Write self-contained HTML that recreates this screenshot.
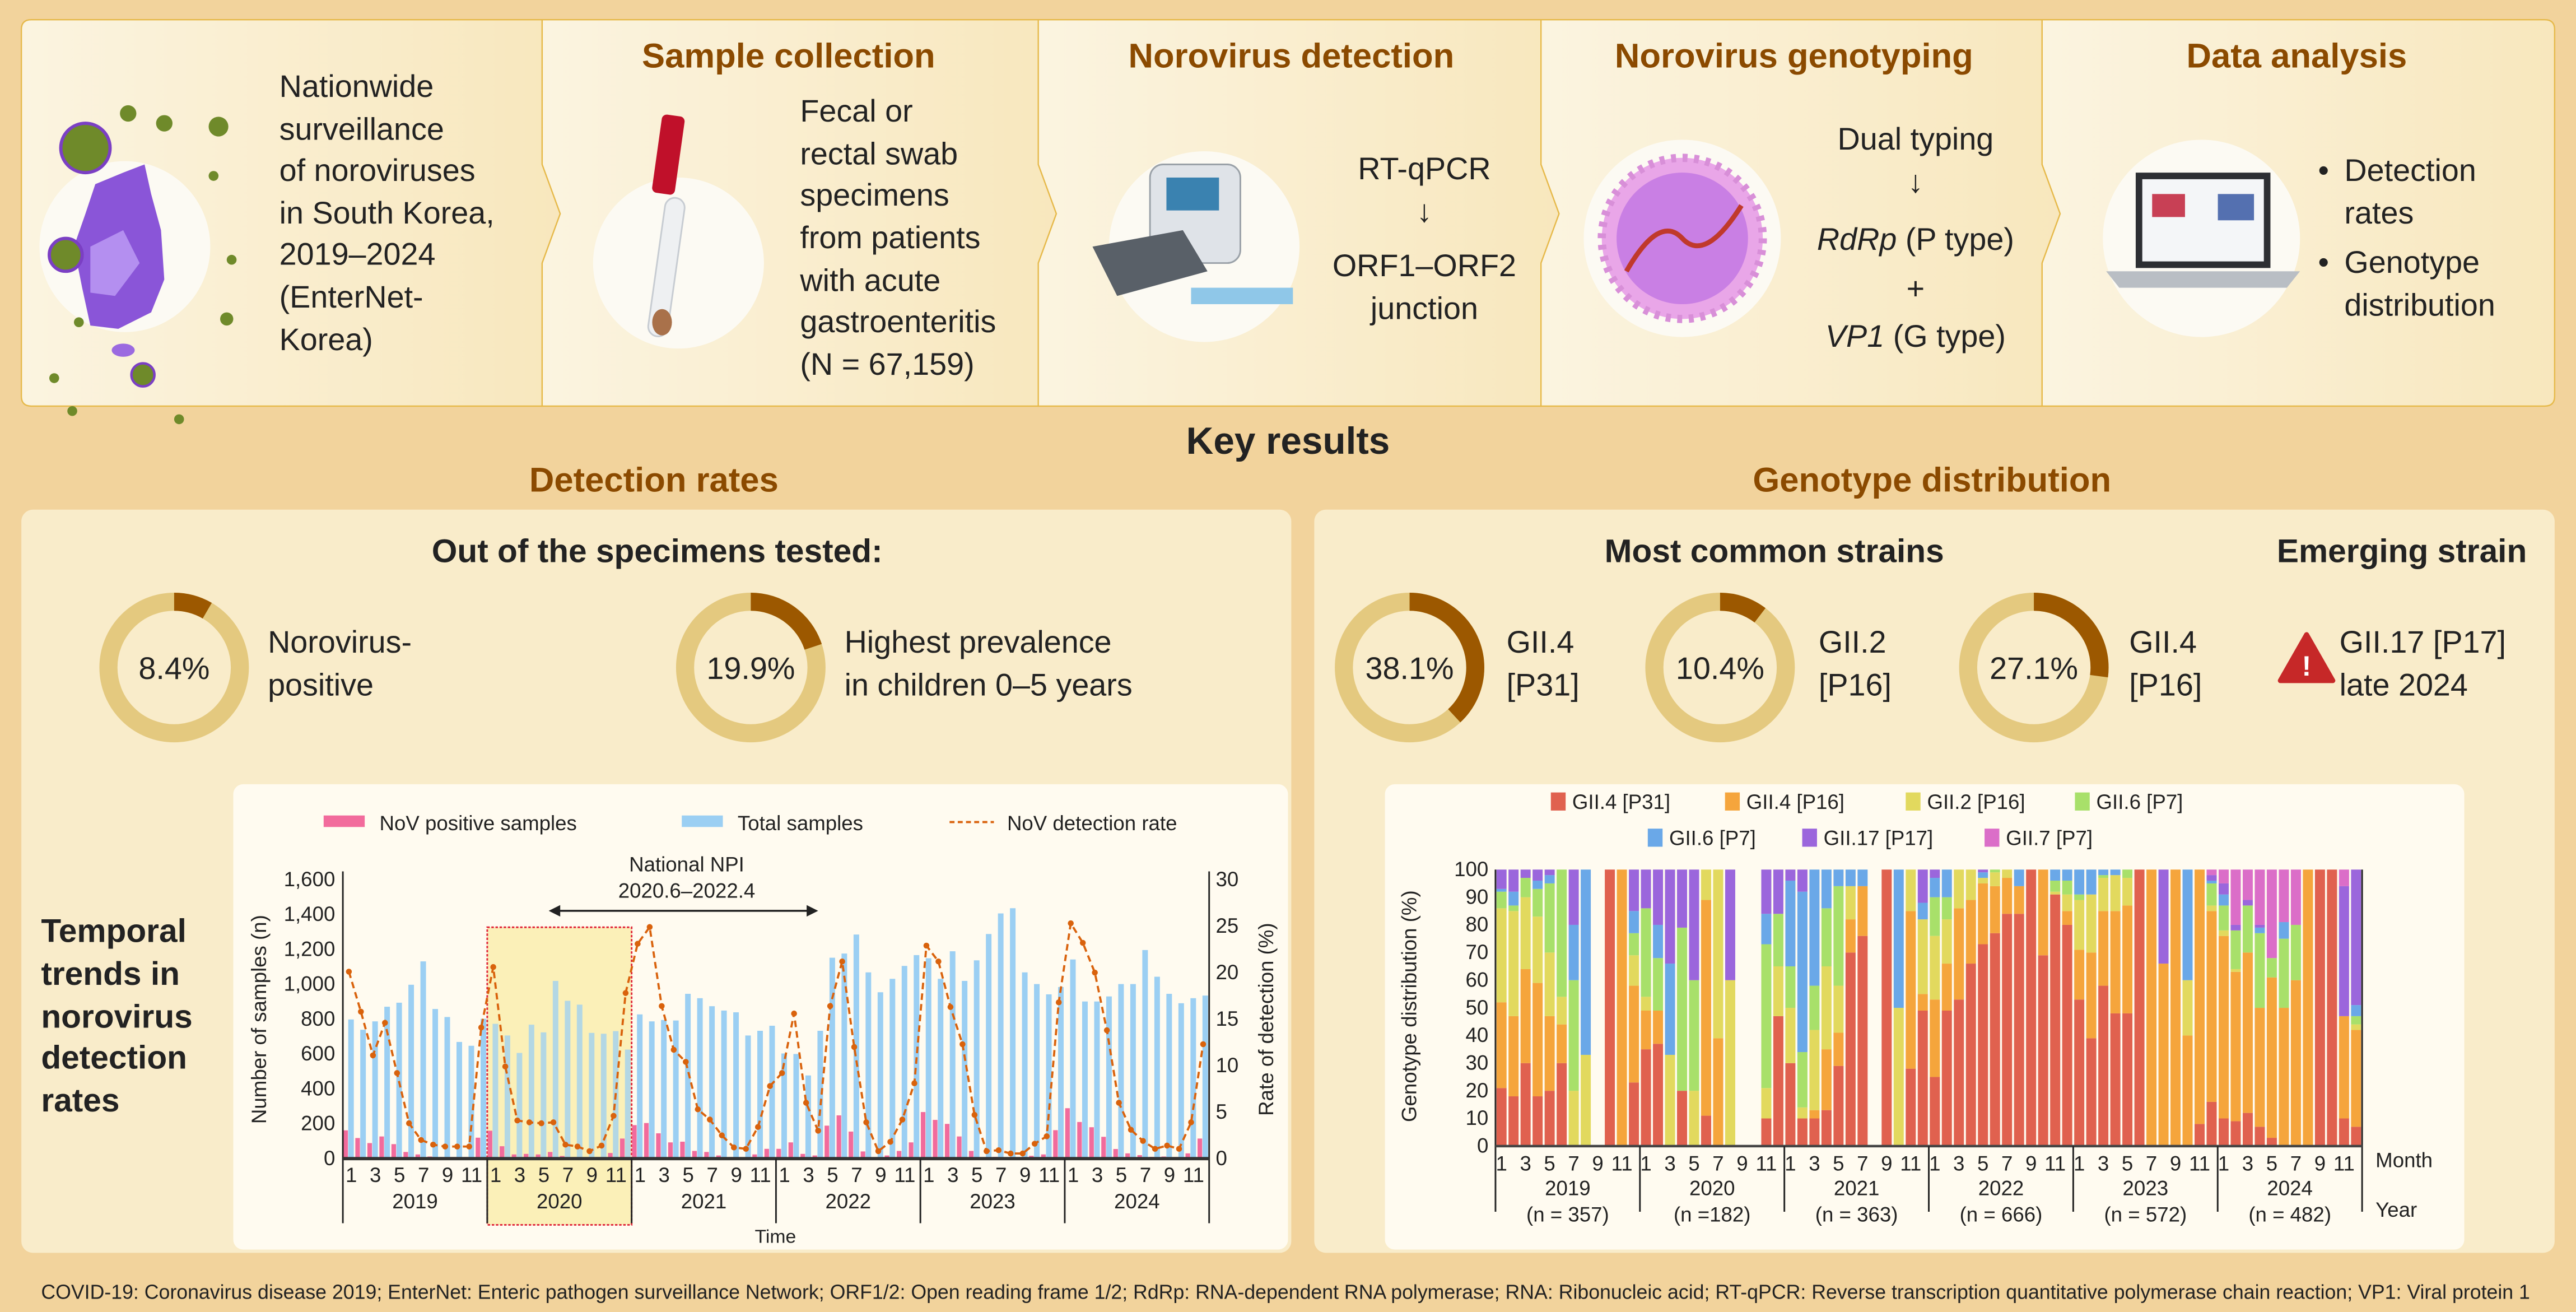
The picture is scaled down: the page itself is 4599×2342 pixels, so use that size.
<!DOCTYPE html>
<html><head><meta charset="utf-8"><style>
html,body{margin:0;padding:0;background:#f2d39c;}
svg{display:block;font-family:"Liberation Sans",Arial,sans-serif;}
</style></head><body>
<svg id="root" width="4599" height="2342" viewBox="0 0 1568 798" preserveAspectRatio="none" xmlns="http://www.w3.org/2000/svg">
<defs>
<linearGradient id="pg" x1="0" x2="1"><stop offset="0" stop-color="#fbf4e0"/><stop offset="1" stop-color="#f8e7bd"/></linearGradient>
</defs>
<rect x="0" y="0" width="1568" height="798" fill="#f2d39c"/>

<g>
<path d="M19,12 H330 V100 L341,130 L330,160 V247 H19 Q13,247 13,241 V18 Q13,12 19,12Z" fill="url(#pg)" stroke="#e6b94a" stroke-width="0.8"/>
<path d="M330,12 H632 V100 L643,130 L632,160 V247 H330 V160 L341,130 L330,100Z" fill="url(#pg)" stroke="#e6b94a" stroke-width="0.8"/>
<path d="M632,12 H938 V100 L949,130 L938,160 V247 H632 V160 L643,130 L632,100Z" fill="url(#pg)" stroke="#e6b94a" stroke-width="0.8"/>
<path d="M938,12 H1243 V100 L1254,130 L1243,160 V247 H938 V160 L949,130 L938,100Z" fill="url(#pg)" stroke="#e6b94a" stroke-width="0.8"/>
<path d="M1243,12 H1549 Q1555,12 1555,18 V241 Q1555,247 1549,247 H1243 V160 L1254,130 L1243,100Z" fill="url(#pg)" stroke="#e6b94a" stroke-width="0.8"/>
</g>

<g>
<circle cx="76" cy="150" r="52" fill="#fcfaf3"/>
<path d="M58,112 L75,105 L88,100 L92,118 L98,140 L100,170 L92,190 L72,200 L55,198 L50,175 L45,150 L52,130Z" fill="#8a55d8"/>
<path d="M55,150 L75,140 L85,160 L70,180 L55,178Z" fill="#b48ff0"/>
<ellipse cx="75" cy="213" rx="7" ry="4" fill="#9b6ae0"/>
<circle cx="52" cy="90" r="15" fill="#6f8a2a" stroke="#7b3fc4" stroke-width="2"/>
<circle cx="40" cy="155" r="10" fill="#6f8a2a" stroke="#7b3fc4" stroke-width="2"/>
<circle cx="87" cy="228" r="7" fill="#6f8a2a" stroke="#7b3fc4" stroke-width="1.5"/>
<circle cx="100" cy="75" r="5" fill="#6f8a2a"/><circle cx="133" cy="77" r="6" fill="#6f8a2a"/>
<circle cx="78" cy="69" r="5" fill="#6f8a2a"/><circle cx="130" cy="107" r="3" fill="#6f8a2a"/>
<circle cx="141" cy="158" r="3" fill="#6f8a2a"/><circle cx="138" cy="194" r="4" fill="#6f8a2a"/>
<circle cx="48" cy="196" r="3" fill="#6f8a2a"/><circle cx="33" cy="230" r="3" fill="#6f8a2a"/>
<circle cx="44" cy="250" r="3" fill="#6f8a2a"/><circle cx="109" cy="255" r="3" fill="#6f8a2a"/>
</g>
<text font-size="19" fill="#222">
<tspan x="170" y="59">Nationwide</tspan><tspan x="170" y="85">surveillance</tspan><tspan x="170" y="110">of noroviruses</tspan><tspan x="170" y="136">in South Korea,</tspan><tspan x="170" y="161">2019–2024</tspan><tspan x="170" y="187">(EnterNet-</tspan><tspan x="170" y="213">Korea)</tspan></text>

<text x="480" y="41" font-size="21" font-weight="bold" fill="#8b4a00" text-anchor="middle">Sample collection</text>
<g>
<circle cx="413" cy="160" r="52" fill="#fcfaf3"/>
<rect x="400" y="120" width="12" height="85" rx="6" fill="#eef0f2" stroke="#c7ccd2" transform="rotate(8 406 160)"/>
<rect x="399" y="70" width="14" height="48" rx="3" fill="#c0102a" transform="rotate(8 406 100)"/>
<ellipse cx="403" cy="196" rx="6" ry="8" fill="#a9714a"/>
</g>
<text font-size="19" fill="#222">
<tspan x="487" y="74">Fecal or</tspan><tspan x="487" y="100">rectal swab</tspan><tspan x="487" y="125">specimens</tspan><tspan x="487" y="151">from patients</tspan><tspan x="487" y="177">with acute</tspan><tspan x="487" y="202">gastroenteritis</tspan><tspan x="487" y="228">(N = 67,159)</tspan></text>

<text x="786" y="41" font-size="21" font-weight="bold" fill="#8b4a00" text-anchor="middle">Norovirus detection</text>
<g>
<circle cx="733" cy="150" r="58" fill="#fcfaf3"/>
<rect x="700" y="100" width="55" height="60" rx="8" fill="#dfe3e8" stroke="#9aa1a8"/>
<rect x="710" y="108" width="32" height="20" fill="#3a82b0"/>
<path d="M665,150 L720,140 L735,165 L680,180Z" fill="#596068"/>
<rect x="725" y="175" width="62" height="10" fill="#8fc7e8"/>
</g>
<text font-size="19" fill="#222" text-anchor="middle">
<tspan x="867" y="109">RT-qPCR</tspan><tspan x="867" y="135">↓</tspan><tspan x="867" y="168">ORF1–ORF2</tspan><tspan x="867" y="194">junction</tspan></text>

<text x="1092" y="41" font-size="21" font-weight="bold" fill="#8b4a00" text-anchor="middle">Norovirus genotyping</text>
<g>
<circle cx="1024" cy="145" r="60" fill="#fcfaf3"/>
<circle cx="1024" cy="145" r="49" fill="#e9a6e8" stroke="#d88fd8" stroke-width="5" stroke-dasharray="3 4"/>
<circle cx="1024" cy="145" r="40" fill="#c97fe4"/>
<path d="M990,165 Q1010,130 1024,145 T1060,125" fill="none" stroke="#c0392b" stroke-width="3"/>
</g>
<text font-size="19" fill="#222" text-anchor="middle">
<tspan x="1166" y="91">Dual typing</tspan><tspan x="1166" y="117">↓</tspan><tspan x="1166" y="152"><tspan font-style="italic">RdRp</tspan> (P type)</tspan><tspan x="1166" y="182">+</tspan><tspan x="1166" y="211"><tspan font-style="italic">VP1</tspan> (G type)</tspan></text>

<text x="1398" y="41" font-size="21" font-weight="bold" fill="#8b4a00" text-anchor="middle">Data analysis</text>
<g>
<circle cx="1340" cy="145" r="60" fill="#fcfaf3"/>
<rect x="1300" y="105" width="82" height="58" fill="#2d2f33"/>
<rect x="1304" y="109" width="74" height="50" fill="#f4f6f8"/>
<rect x="1310" y="118" width="20" height="14" fill="#c84055"/><rect x="1350" y="118" width="22" height="16" fill="#5470b0"/>
<path d="M1282,165 H1400 L1392,175 H1290Z" fill="#b9bec4"/>
</g>
<text font-size="19" fill="#222">
<tspan x="1411" y="110">•</tspan><tspan x="1427" y="110">Detection</tspan><tspan x="1427" y="136">rates</tspan><tspan x="1411" y="166">•</tspan><tspan x="1427" y="166">Genotype</tspan><tspan x="1427" y="192">distribution</tspan></text>

<text x="784" y="276" font-size="23" font-weight="bold" fill="#222" text-anchor="middle">Key results</text>
<text x="398" y="299" font-size="21" font-weight="bold" fill="#8b4a00" text-anchor="middle">Detection rates</text>
<text x="1176" y="299" font-size="21" font-weight="bold" fill="#8b4a00" text-anchor="middle">Genotype distribution</text>

<rect x="13" y="310" width="773" height="452" rx="7" fill="#f9ecca"/>
<rect x="800" y="310" width="755" height="452" rx="7" fill="#f9ecca"/>

<text x="400" y="342" font-size="20" font-weight="bold" fill="#222" text-anchor="middle">Out of the specimens tested:</text>
<text x="1080" y="342" font-size="20" font-weight="bold" fill="#222" text-anchor="middle">Most common strains</text>
<text x="1462" y="342" font-size="20" font-weight="bold" fill="#222" text-anchor="middle">Emerging strain</text>

<g id="donuts"></g>

<text font-size="19" fill="#222">
<tspan x="163" y="397">Norovirus-</tspan><tspan x="163" y="423">positive</tspan>
<tspan x="514" y="397">Highest prevalence</tspan><tspan x="514" y="423">in children 0–5 years</tspan>
<tspan x="917" y="397">GII.4</tspan><tspan x="917" y="423">[P31]</tspan>
<tspan x="1107" y="397">GII.2</tspan><tspan x="1107" y="423">[P16]</tspan>
<tspan x="1296" y="397">GII.4</tspan><tspan x="1296" y="423">[P16]</tspan>
<tspan x="1424" y="397">GII.17 [P17]</tspan><tspan x="1424" y="423">late 2024</tspan></text>
<g>
<path d="M1404,386 L1420,414 H1388Z" fill="#c62828" stroke="#c62828" stroke-width="3" stroke-linejoin="round"/>
<text x="1404" y="411" font-size="17" font-weight="bold" fill="#fff" text-anchor="middle">!</text>
</g>

<text font-size="20" font-weight="bold" fill="#222">
<tspan x="25" y="573">Temporal</tspan><tspan x="25" y="599">trends in</tspan><tspan x="25" y="625">norovirus</tspan><tspan x="25" y="650">detection</tspan><tspan x="25" y="676">rates</tspan></text>

<rect x="142" y="477" width="642" height="283" rx="6" fill="#fffbf0"/>
<rect x="843" y="477" width="657" height="283" rx="6" fill="#fffbf0"/>

<g id="leftChart"></g>
<g id="rightChart"></g>

<text x="25" y="790" font-size="12.2" fill="#222" textLength="1515" lengthAdjust="spacingAndGlyphs">COVID-19: Coronavirus disease 2019; EnterNet: Enteric pathogen surveillance Network; ORF1/2: Open reading frame 1/2; RdRp: RNA-dependent RNA polymerase; RNA: Ribonucleic acid; RT-qPCR: Reverse transcription quantitative polymerase chain reaction; VP1: Viral protein 1</text>
</svg>
<script>
const NS="http://www.w3.org/2000/svg";
function mk(tag,attrs,parent,txt){const e=document.createElementNS(NS,tag);for(const k in attrs)e.setAttribute(k,attrs[k]);if(txt!==undefined)e.textContent=txt;parent.appendChild(e);return e;}

const donutValues=[8.4,19.9,38.1,10.4,27.1];
const donutLabels=["8.4%","19.9%","38.1%","10.4%","27.1%"];
const donutCentersX=[106,457,858,1047,1238];
const dg=document.getElementById('donuts');
donutValues.forEach((v,i)=>{
  const cx=donutCentersX[i],cy=406,r=40,C=2*Math.PI*r;
  const g=mk('g',{},dg);
  
  
  mk('circle',{cx,cy,r,fill:'none',stroke:'#e4c97f','stroke-width':11},g);
  mk('circle',{cx,cy,r,fill:'none',stroke:'#9c5800','stroke-width':11,'stroke-dasharray':(C*v/100)+' '+C,transform:`rotate(-90 ${cx} ${cy})`},g);
  mk('text',{x:cx,y:cy+7,'font-size':19,'text-anchor':'middle',fill:'#222'},g,donutLabels[i]);
});

const years=["2019","2020","2021","2022","2023","2024"];
const monthTicks=[1,3,5,7,9,11];
const totalSamples=[798,739,787,871,894,997,1131,858,812,669,647,802,
 773,706,606,768,724,1019,905,883,721,716,731,625,
 827,787,795,792,945,920,874,849,839,706,733,762,
 603,600,477,733,1152,1176,1285,1068,954,1031,1105,1167,
 1149,1031,1189,1019,1137,1288,1406,1436,1068,1001,942,984,
 1142,901,901,930,1001,1001,1196,1043,945,891,920,935];
const positiveSamples=[162,118,89,127,83,38,24,12,9,9,9,120,
 160,71,24,27,24,38,15,9,6,9,32,115,
 192,204,145,93,97,44,38,18,9,8,24,56,
 56,93,27,18,189,248,155,41,8,18,44,93,
 267,222,199,127,44,8,10,6,6,16,24,163,
 289,210,180,125,55,30,20,10,12,9,30,115];
const detectionRate=[20.1,15.8,11.1,14.6,9.2,3.8,2.0,1.5,1.3,1.3,1.3,14.1,
 20.6,9.9,4.1,3.9,3.8,3.9,1.5,1.3,0.8,1.4,4.6,17.8,
 23.1,24.9,16.4,11.7,10.4,5.3,4.2,2.5,1.2,1.05,3.4,7.8,
 9.2,15.6,6.0,3.0,16.4,21.2,12.0,3.9,0.8,1.8,4.2,8.1,
 22.9,21.2,16.3,12.3,4.7,0.8,0.9,0.55,0.55,1.6,2.4,16.8,
 25.3,23.2,20.0,13.8,6.0,3.1,1.9,1.05,1.4,1.05,3.9,12.3];
const leftTicks=[0,200,400,600,800,1000,1200,1400,1600];
const leftTickLabels=["0","200","400","600","800","1,000","1,200","1,400","1,600"];
const rateTicks=[0,5,10,15,20,25,30];

(function(){
  const g=document.getElementById('leftChart');
  const X0=208.7,X1=736,Y0=704.7,Y1=535;
  const mw=(X1-X0)/totalSamples.length;
  const x=i=>X0+mw*(i+0.5);
  const y=v=>Y0-(v/1600)*(Y0-Y1);
  const yr=v=>Y0-(v/30)*(Y0-Y1);
  const hb=mk('rect',{x:X0+mw*12,y:564,width:mw*12,height:181,fill:'#fbf0b8',stroke:'#e0263a','stroke-width':1,'stroke-dasharray':'1.5 1'},g);
  
  
  totalSamples.forEach((v,i)=>{
    const b=mk('rect',{x:x(i)-0.4,y:y(v),width:3.4,height:Y0-y(v),fill:'#9bcff3','fill-opacity':(i>=12&&i<24)?0.75:1},g);
    
    
  });
  positiveSamples.forEach((v,i)=>{
    const b=mk('rect',{x:x(i)-3.4,y:y(v),width:2.8,height:Y0-y(v),fill:'#f26b9c'},g);
    
    
  });
  const pts=detectionRate.map((v,i)=>x(i)+','+yr(v)).join(' ');
  const ln=mk('polyline',{points:pts,fill:'none',stroke:'#d9620c','stroke-width':1.3,'stroke-dasharray':'4 2.5'},g);
  
  
  detectionRate.forEach((v,i)=>{
    const c=mk('circle',{cx:x(i),cy:yr(v),r:1.8,fill:'#d9620c'},g);
    
    
  });
  mk('line',{x1:X0,y1:Y1-5,x2:X0,y2:744,stroke:'#222','stroke-width':1},g);
  mk('line',{x1:X1,y1:Y1-5,x2:X1,y2:744,stroke:'#222','stroke-width':1},g);
  mk('line',{x1:X0,y1:Y0,x2:X1,y2:Y0,stroke:'#333','stroke-width':2},g);
  leftTicks.forEach((t,i)=>{mk('text',{x:204,y:y(t)+4,'font-size':12.5,'text-anchor':'end',fill:'#222'},g,leftTickLabels[i]);});
  rateTicks.forEach(t=>{mk('text',{x:740,y:yr(t)+4,'font-size':12.5,fill:'#222'},g,String(t));});
  years.forEach((yv,k)=>{
    if(k>0)mk('line',{x1:X0+mw*12*k,y1:Y0,x2:X0+mw*12*k,y2:744,stroke:'#222','stroke-width':1},g);
    monthTicks.forEach(m=>mk('text',{x:x(k*12+m-1)+1.5,y:719,'font-size':12.5,'text-anchor':'middle',fill:'#222'},g,String(m)));
    mk('text',{x:X0+mw*12*(k+0.5),y:735,'font-size':12.5,'text-anchor':'middle',fill:'#222'},g,yv);
  });
  const t1=mk('text',{x:162,y:620,'font-size':12.5,'text-anchor':'middle',fill:'#222',transform:'rotate(-90 162 620)'},g,'Number of samples (n)');
  
  const t2=mk('text',{x:775,y:620,'font-size':12.5,'text-anchor':'middle',fill:'#222',transform:'rotate(-90 775 620)'},g,'Rate of detection (%)');
  
  const t3=mk('text',{x:472,y:756,'font-size':11.5,'text-anchor':'middle',fill:'#222'},g,'Time');
  
  mk('text',{x:418,y:530,'font-size':12.5,'text-anchor':'middle',fill:'#222'},g,'National NPI');
  mk('text',{x:418,y:546,'font-size':12.5,'text-anchor':'middle',fill:'#222'},g,'2020.6–2022.4');
  mk('line',{x1:338,y1:554,x2:494,y2:554,stroke:'#222','stroke-width':1.2},g);
  mk('path',{d:'M334,554 l7,-3.5 v7Z M498,554 l-7,-3.5 v7Z',fill:'#222'},g);
  const lg=mk('g',{},g);
  
  mk('rect',{x:197,y:496,width:25,height:7,fill:'#f26b9c'},lg);
  mk('text',{x:231,y:505,'font-size':12.5,fill:'#222'},lg,'NoV positive samples');
  mk('rect',{x:415,y:496,width:25,height:7,fill:'#9bcff3'},lg);
  mk('text',{x:449,y:505,'font-size':12.5,fill:'#222'},lg,'Total samples');
  mk('line',{x1:578,y1:500,x2:605,y2:500,stroke:'#d9620c','stroke-width':1.3,'stroke-dasharray':'3 2'},lg);
  mk('text',{x:613,y:505,'font-size':12.5,fill:'#222'},lg,'NoV detection rate');
})();

const genotypeNames=["GII.4 [P31]","GII.4 [P16]","GII.2 [P16]","GII.6 [P7]","GII.6 [P7]","GII.17 [P17]","GII.7 [P7]"];
const genotypeColors=["#e0614f","#f5a53c","#e2d95e","#a8e06a","#6aa8e8","#9b66dc","#db6ec8"];
const yearCounts=["(n = 357)","(n =182)","(n = 363)","(n = 666)","(n = 572)","(n = 482)"];
const gii4P31=[21,18,30,18,20,30,0,0,0,100,0,23, 35,37,0,20,0,11,0,0,0,0,10,47, 30,10,10,13,29,70,76,0,100,0,28,49, 25,49,53,66,73,77,84,84,100,69,91,80, 53,39,58,48,48,100,0,0,0,0,8,16, 10,9,12,7,3,0,0,0,100,100,10,7];
const gii4P16=[31,29,34,41,27,14,0,0,0,0,100,35, 14,12,0,0,0,78,39,0,0,0,0,0, 0,0,3,22,12,12,18,0,0,0,57,6, 28,17,33,23,22,17,13,10,0,31,0,5, 18,31,27,37,39,0,100,66,100,40,92,69, 66,54,58,43,58,50,60,100,0,0,37,35];
const gii2P16=[34,38,26,24,23,10,20,33,0,0,0,11, 5,0,33,0,20,11,61,60,0,0,11,18, 20,4,29,30,17,12,0,0,0,50,15,27, 23,16,14,11,2,5,3,0,0,0,1,6, 18,21,12,13,10,0,0,0,0,20,0,2, 2,1,0,0,0,0,0,0,0,0,0,2];
const gii6P7g=[6,2,7,10,25,46,40,0,0,0,0,8, 32,19,0,59,40,0,0,0,0,0,52,19, 15,20,16,21,36,0,0,0,0,0,0,0, 14,8,0,0,0,1,0,0,0,0,4,5, 2,0,1,0,3,0,0,0,0,0,0,8, 9,14,17,27,7,25,20,0,0,0,0,3];
const gii6P7b=[1,5,0,3,3,0,20,67,0,0,0,8, 0,12,33,0,0,0,0,0,0,0,11,0, 31,58,42,14,6,6,6,0,0,50,0,6, 7,10,0,0,2,0,0,6,0,0,4,4, 9,9,2,2,0,0,0,0,0,40,0,1, 4,0,0,2,0,6,0,0,0,0,0,4];
const gii17P17=[7,8,3,4,2,0,20,0,0,0,0,15, 14,20,34,21,40,0,0,40,0,0,16,16, 4,8,0,0,0,0,0,0,0,0,0,12, 3,0,0,0,1,0,0,0,0,0,0,0, 0,0,0,0,0,0,0,34,0,0,0,2, 4,2,2,1,0,0,0,0,0,0,47,49];
const gii7P7=[0,0,0,0,0,0,0,0,0,0,0,0, 0,0,0,0,0,0,0,0,0,0,0,0, 0,0,0,0,0,0,0,0,0,0,0,0, 0,0,0,0,0,0,0,0,0,0,0,0, 0,0,0,0,0,0,0,0,0,0,0,2, 5,20,11,20,32,19,20,0,0,0,6,0];

(function(){
  const g=document.getElementById('rightChart');
  const series=[gii4P31,gii4P16,gii2P16,gii6P7g,gii6P7b,gii17P17,gii7P7];
  const X0=910.3,X1=1437.8,Y0=697.1,Y1=528.9;
  const n=gii4P31.length,mw=(X1-X0)/n;
  const x=i=>X0+mw*i;
  const y=v=>Y0-(v/100)*(Y0-Y1);
  for(let i=0;i<n;i++){
    let acc=0;
    series.forEach((s,k)=>{
      const v=s[i];if(!v)return;
      const r=mk('rect',{x:x(i)+0.6,y:y(acc+v),width:mw-1.2,height:y(acc)-y(acc+v),fill:genotypeColors[k]},g);
      
      
      acc+=v;
    });
  }
  mk('line',{x1:X0,y1:Y1,x2:X0,y2:737,stroke:'#222','stroke-width':1},g);
  mk('line',{x1:X1,y1:Y1,x2:X1,y2:737,stroke:'#222','stroke-width':1},g);
  mk('line',{x1:X0,y1:Y0,x2:X1,y2:Y0,stroke:'#444','stroke-width':1.5},g);
  for(let t=0;t<=100;t+=10)mk('text',{x:906,y:y(t)+4,'font-size':12.5,'text-anchor':'end',fill:'#222'},g,String(t));
  years.forEach((yv,k)=>{
    if(k>0)mk('line',{x1:x(12*k),y1:Y0,x2:x(12*k),y2:737,stroke:'#222','stroke-width':1},g);
    monthTicks.forEach(m=>mk('text',{x:x(k*12+m-1)+mw/2,y:712,'font-size':12.5,'text-anchor':'middle',fill:'#222'},g,String(m)));
    mk('text',{x:x(12*k+6),y:727,'font-size':12.5,'text-anchor':'middle',fill:'#222'},g,yv);
    mk('text',{x:x(12*k+6),y:743,'font-size':12.5,'text-anchor':'middle',fill:'#222'},g,yearCounts[k]);
  });
  mk('text',{x:1446,y:710,'font-size':12.5,fill:'#222'},g,'Month');
  mk('text',{x:1446,y:740,'font-size':12.5,fill:'#222'},g,'Year');
  const yt=mk('text',{x:862,y:612,'font-size':12.5,'text-anchor':'middle',fill:'#222',transform:'rotate(-90 862 612)'},g,'Genotype distribution (%)');
  
  const legX=[944,1050,1160,1263,1003,1097,1208];
  const legY=[491,491,491,491,513,513,513];
  genotypeNames.forEach((nm,k)=>{
    const lg=mk('g',{},g);
    
    
    mk('rect',{x:legX[k],y:legY[k]-9,width:9,height:11,fill:genotypeColors[k]},lg);
    mk('text',{x:legX[k]+13,y:legY[k]+1,'font-size':12.5,fill:'#222'},lg,nm);
  });
})();
</script>
</body></html>
